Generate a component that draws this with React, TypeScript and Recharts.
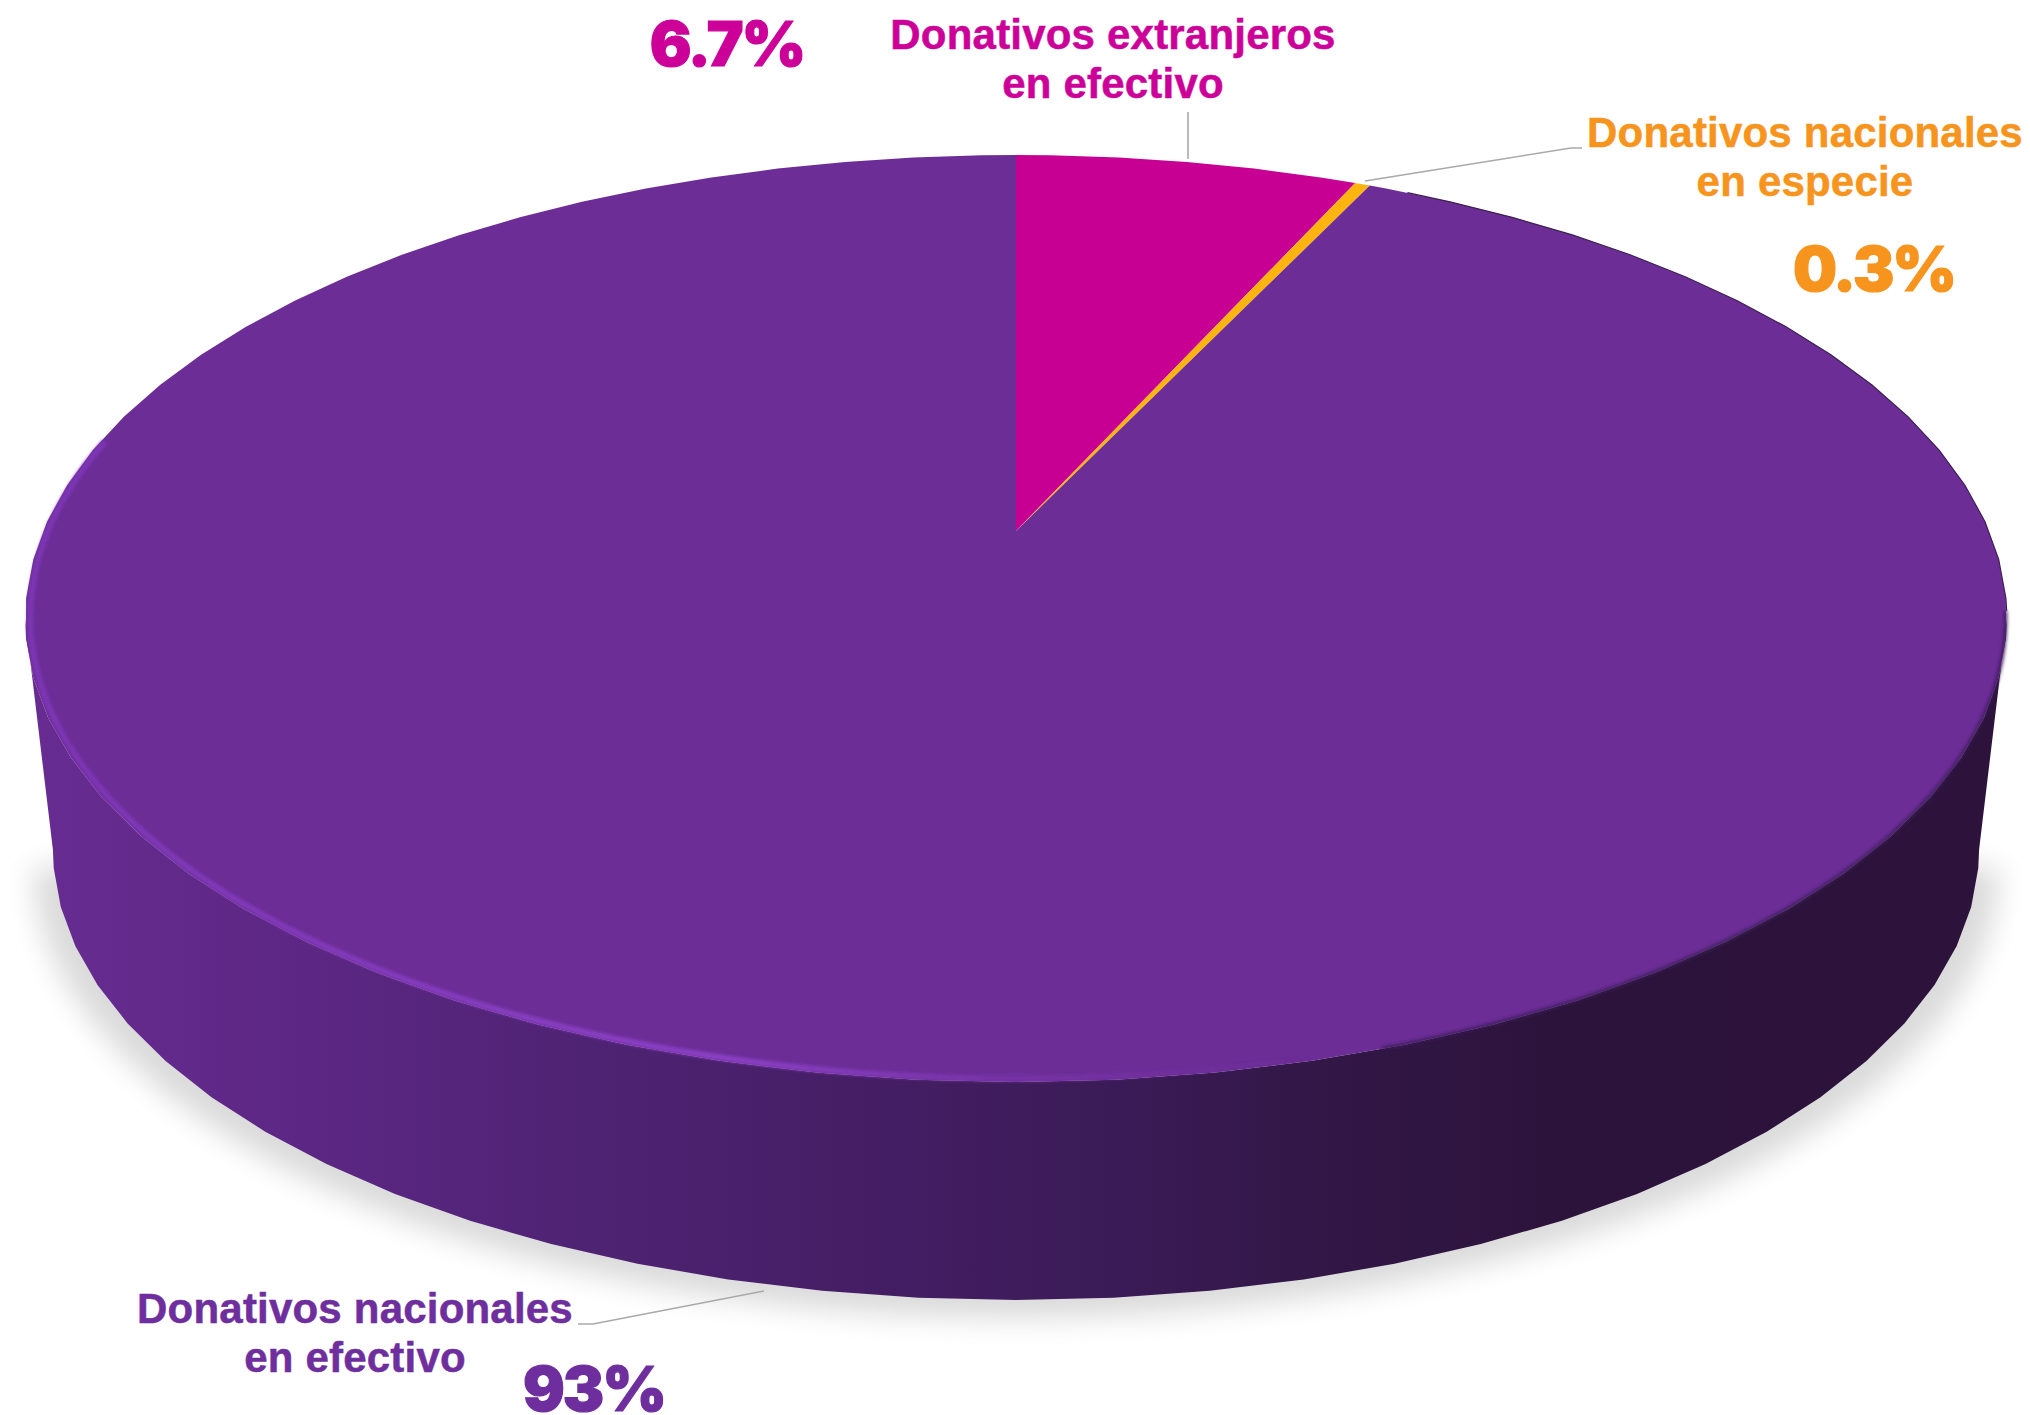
import React from 'react';
import { PieChart, Pie } from 'recharts';

const categories = ['Donativos extranjeros\nen efectivo', 'Donativos nacionales\nen especie', 'Donativos nacionales\nen efectivo'];
const values = [6.7, 0.3, 93];
const percentLabels = ['6.7%', '0.3%', '93%'];
const sliceColors = ['#c70093', '#fdb40f', '#6c2d97'];
const textColors = ['#cc0099', '#f7941d', '#6e2e9d'];

const chartData = categories.map((name, i) => ({ name, value: values[i], fill: sliceColors[i] }));

// where the labels sit on the page
const nameAnchors = [
    { x: 1113, y: 49 },
    { x: 1805, y: 147 },
    { x: 355, y: 1323 },
];
const percentAnchors = [
    { x: 727, y: 66 },
    { x: 1874, y: 291 },
    { x: 594, y: 1411 },
];
const leaderLines = [
    '1188,112 1188,159',
    '1365,181 1571,148 1582,148',
    '578,1324 593,1324 764,1291',
];

// perspective of the top face: the disc is seen from the front and above
const APEX_X = 1016;
const APEX_Y = 531;
const TILT = 0.1888;
const SCALE_X = 973;
const SCALE_Y = 447;

// the lower rim is the top rim pulled towards a vanishing point
const VANISH_Y = 8868;
const LOWER_SCALE = 0.972;

// the original disc is a faceted polygon, not a true curve
const FACET = 4.8;
const FACET_BASE = 92.4;

// the wall is only seen between the two widest points of the rim
const WALL_RIGHT = -10.9;
const WALL_LEFT = -169.1;

type Pt = [number, number];

const projectTop = (a: number, r = 1): Pt => {
    const rad = (a * Math.PI) / 180;
    const u = r * Math.cos(rad);
    const v = r * Math.sin(rad);
    const w = 1 + TILT * v;
    return [APEX_X + (SCALE_X * u) / w, APEX_Y - (SCALE_Y * v) / w];
};

const projectLower = (a: number): Pt => {
    const [x, y] = projectTop(a);
    return [APEX_X + LOWER_SCALE * (x - APEX_X), VANISH_Y + LOWER_SCALE * (y - VANISH_Y)];
};

// walks an arc from high angle to low angle (or back) through the facet corners
const arcPoints = (from: number, to: number, fn: (a: number) => Pt): Pt[] => {
    const hi = Math.max(from, to);
    const lo = Math.min(from, to);
    const angles = [hi];
    let k = Math.ceil((hi - FACET_BASE) / FACET) - 1;
    while (FACET_BASE + k * FACET > lo) {
        const a = FACET_BASE + k * FACET;
        if (a < hi) angles.push(a);
        k--;
    }
    angles.push(lo);
    if (from < to) angles.reverse();
    return angles.map(fn);
};

const smoothArc = (from: number, to: number, fn: (a: number) => Pt): Pt[] => {
    const steps = Math.ceil(Math.abs(to - from) / 1.5);
    const pts: Pt[] = [];
    for (let i = 0; i <= steps; i++) pts.push(fn(from + ((to - from) * i) / steps));
    return pts;
};

const toPath = (pts: Pt[], close = true) =>
    'M' + pts.map(p => `${p[0].toFixed(1)},${p[1].toFixed(1)}`).join('L') + (close ? 'Z' : '');

const RIM_FROM = -30;
const RIM_TO = -192;

const TopSlice = (props: any) => {
    const { startAngle, endAngle, fill } = props;
    const pts = [[APEX_X, APEX_Y] as Pt, ...arcPoints(startAngle, endAngle, a => projectTop(a))];
    const hasRim = startAngle > RIM_FROM && endAngle < RIM_TO;
    return (
        <g>
            <path d={toPath(pts)} fill={fill} stroke="none" />
            {hasRim && (
                <>
                    <path
                        d={toPath(smoothArc(RIM_FROM, RIM_TO, a => projectTop(a, 0.995)), false)}
                        fill="none"
                        stroke="url(#rimGlow)"
                        strokeWidth={6}
                        filter="url(#rimBlur)"
                    />
                    <path
                        d={toPath(smoothArc(-10, -72, a => projectTop(a, 0.999)), false)}
                        fill="none"
                        stroke="#3a1a55"
                        strokeOpacity={0.75}
                        strokeWidth={4}
                        filter="url(#rimBlur)"
                    />
                    <path
                        d={toPath(arcPoints(62, -10, a => projectTop(a)), false)}
                        fill="none"
                        stroke="#3c2050"
                        strokeWidth={1.2}
                    />
                </>
            )}
        </g>
    );
};

const WallSlice = (props: any) => {
    const start = Math.min(props.startAngle, WALL_RIGHT);
    const end = Math.max(props.endAngle, WALL_LEFT);
    if (start <= end) return null;
    const pts = [...arcPoints(start, end, a => projectTop(a)), ...arcPoints(end, start, projectLower)];
    return <path d={toPath(pts)} fill="url(#wallShade)" stroke="none" />;
};

const ShadowSlice = (props: any) => {
    const start = Math.min(props.startAngle, WALL_RIGHT);
    const end = Math.max(props.endAngle, WALL_LEFT);
    if (start <= end) return null;
    const grow = (a: number): Pt => {
        const [x, y] = projectLower(a);
        return [APEX_X + (x - APEX_X) * 1.02, y + 18];
    };
    return <path d={toPath(smoothArc(start, end, grow))} fill="#dadada" stroke="none" filter="url(#shadowBlur)" />;
};

const renderLabel = (props: any) => {
    const i = props.index;
    const lines = categories[i].split('\n');
    return (
        <g key={i}>
            <polyline points={leaderLines[i]} fill="none" stroke="#a9a9a9" strokeWidth={1.6} />
            <text
                x={nameAnchors[i].x}
                y={nameAnchors[i].y}
                textAnchor="middle"
                fontFamily="'Liberation Sans', Arial, sans-serif"
                fontWeight={700}
                fontSize={42}
                letterSpacing={0.2}
                fill={textColors[i]}
                stroke={textColors[i]}
                strokeWidth={0.5}
            >
                <tspan x={nameAnchors[i].x}>{lines[0]}</tspan>
                <tspan x={nameAnchors[i].x} dy={49}>{lines[1]}</tspan>
            </text>
            <text
                x={percentAnchors[i].x}
                y={percentAnchors[i].y}
                textAnchor="middle"
                fontFamily="Inter, sans-serif"
                fontWeight={900}
                fontSize={62}
                letterSpacing={-2}
                fill={textColors[i]}
                stroke={textColors[i]}
                strokeWidth={1.2}
            >
                {percentLabels[i]}
            </text>
        </g>
    );
};

export default function App() {
    return (
        <div style={{ position: 'absolute', left: 0, top: 0, width: 2030, height: 1415, background: '#fff' }}>
            <PieChart width={2030} height={1415} margin={{ top: 0, right: 0, bottom: 0, left: 0 }}>
                <defs>
                    <linearGradient id="wallShade" gradientUnits="userSpaceOnUse" x1={25} y1={0} x2={2007} y2={0}>
                        <stop offset="0" stopColor="#682c92" />
                        <stop offset="0.14" stopColor="#5c2784" />
                        <stop offset="0.28" stopColor="#4f2374" />
                        <stop offset="0.42" stopColor="#451e65" />
                        <stop offset="0.55" stopColor="#3b1b57" />
                        <stop offset="0.65" stopColor="#321747" />
                        <stop offset="0.78" stopColor="#2c133b" />
                        <stop offset="1" stopColor="#2d133c" />
                    </linearGradient>
                    <linearGradient id="rimGlow" gradientUnits="userSpaceOnUse" x1={25} y1={0} x2={1600} y2={0}>
                        <stop offset="0" stopColor="#7c35b3" />
                        <stop offset="0.45" stopColor="#8a3fc4" />
                        <stop offset="0.68" stopColor="#7a34ac" stopOpacity={0.5} />
                        <stop offset="0.82" stopColor="#6c2d97" stopOpacity={0} />
                    </linearGradient>
                    <filter id="rimBlur" x="-5%" y="-5%" width="110%" height="110%">
                        <feGaussianBlur stdDeviation={1.8} />
                    </filter>
                    <filter id="shadowBlur" x="-10%" y="-10%" width="120%" height="120%">
                        <feGaussianBlur stdDeviation={14} />
                    </filter>
                </defs>
                <Pie
                    data={chartData}
                    dataKey="value"
                    cx={APEX_X}
                    cy={APEX_Y}
                    outerRadius={400}
                    startAngle={90}
                    endAngle={-270}
                    shape={ShadowSlice}
                    isAnimationActive={false}
                />
                <Pie
                    data={chartData}
                    dataKey="value"
                    cx={APEX_X}
                    cy={APEX_Y}
                    outerRadius={400}
                    startAngle={90}
                    endAngle={-270}
                    shape={WallSlice}
                    isAnimationActive={false}
                />
                <Pie
                    data={chartData}
                    dataKey="value"
                    nameKey="name"
                    cx={APEX_X}
                    cy={APEX_Y}
                    outerRadius={400}
                    startAngle={90}
                    endAngle={-270}
                    shape={TopSlice}
                    label={renderLabel}
                    labelLine={false}
                    isAnimationActive={false}
                />
            </PieChart>
        </div>
    );
}
